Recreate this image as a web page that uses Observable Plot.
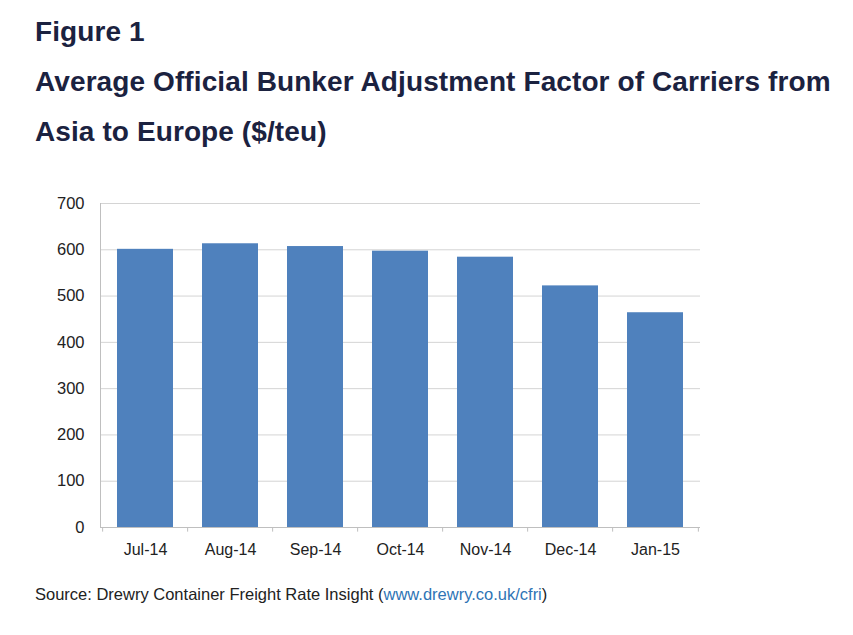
<!DOCTYPE html>
<html>
<head>
<meta charset="utf-8">
<script src="https://cdn.jsdelivr.net/npm/d3@7"></script>
<script src="https://cdn.jsdelivr.net/npm/@observablehq/plot@0.6"></script>
<style>
  html, body { margin: 0; padding: 0; background: #fff; width: 853px; height: 635px; overflow: hidden; }
  body { position: relative; font-family: "Liberation Sans", Arial, sans-serif; }
  .t { position: absolute; left: 35px; font-weight: bold; font-size: 28px; line-height: 28px; letter-spacing: 0.1px; color: #1b2240; white-space: nowrap; }
  #chart { position: absolute; left: 0; top: 180px; }
  #cap { position: absolute; left: 35px; top: 586px; font-size: 16.5px; line-height: 16.5px; color: #222; white-space: nowrap; }
  #cap span { color: #2e74b5; }
</style>
</head>
<body>
<div class="t" style="top:18px">Figure 1</div>
<div class="t" style="top:68px">Average Official Bunker Adjustment Factor of Carriers from</div>
<div class="t" style="top:118px">Asia to Europe ($/teu)</div>
<div id="chart"></div>
<div id="cap">Source: Drewry Container Freight Rate Insight (<span>www.drewry.co.uk/cfri</span>)</div>
<script>
const months = ["Jul-14", "Aug-14", "Sep-14", "Oct-14", "Nov-14", "Dec-14", "Jan-15"];
const baf = [601, 613, 607, 597, 584, 522, 464];
const yTicks = [0, 100, 200, 300, 400, 500, 600, 700];

const data = months.map((m, i) => ({month: m, value: baf[i]}));

const plot = Plot.plot({
  width: 853,
  height: 387,
  marginLeft: 100,
  marginRight: 153,
  marginTop: 23,
  marginBottom: 40,
  style: {fontFamily: "Liberation Sans, Arial, sans-serif", fontSize: "16px", color: "#222"},
  x: {domain: months, paddingInner: 0.34, paddingOuter: 0.17, label: null},
  y: {domain: [0, 700], label: null},
  marks: [
    Plot.ruleY(yTicks.filter(d => d > 0), {stroke: "#d4d4d4", strokeWidth: 1}),
    Plot.barY(data, {x: "month", y: "value", fill: "#4f81bd"}),
    Plot.ruleY([0], {stroke: "#bfbfbf", strokeWidth: 1}),
    Plot.frame({anchor: "left", stroke: "#bfbfbf"}),
    Plot.ruleX(months, {x: d => d, dx: -42.86, y1: 0, y2: -10, stroke: "#bfbfbf"}),
    Plot.ruleX([months[months.length - 1]], {x: d => d, dx: 42.86, y1: 0, y2: -10, stroke: "#bfbfbf"}),
    Plot.axisY({ticks: yTicks, tickSize: 0, tickPadding: 16, fontSize: 16.5, fill: "#222"}),
    Plot.axisX({tickSize: 0, tickPadding: 16, fontSize: 16, fill: "#222"})
  ]
});
document.getElementById("chart").appendChild(plot);
</script>
</body>
</html>
